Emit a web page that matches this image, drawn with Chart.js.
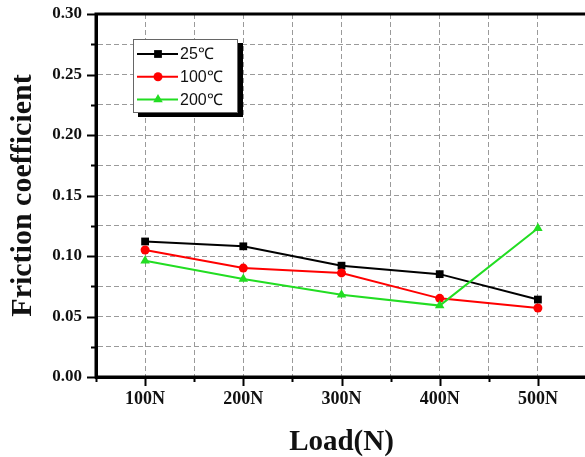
<!DOCTYPE html>
<html>
<head>
<meta charset="utf-8">
<script src="https://cdn.jsdelivr.net/npm/chart.js@4.4.0/dist/chart.umd.min.js"></script>
<style>
  html, body { margin: 0; padding: 0; background: #fff; overflow: hidden; }
  #wrap { width: 600px; height: 457px; }
</style>
</head>
<body>
<div id="wrap"><canvas id="frictionChart" width="600" height="457"></canvas></div>
<script>
// loads on the x axis and their tick labels
const loads = [100, 200, 300, 400, 500];
const loadLabels = ['100N', '200N', '300N', '400N', '500N'];

// series (friction coefficient per load)
const seriesNames = ['25℃', '100℃', '200℃'];
const mu25 = [0.112, 0.108, 0.092, 0.085, 0.064];
const mu100 = [0.105, 0.090, 0.086, 0.065, 0.057];
const mu200 = [0.096, 0.081, 0.068, 0.059, 0.123];

const serif = '"Liberation Serif", "Times New Roman", serif';
const sans = '"Liberation Sans", Arial, sans-serif';

const toPoints = vals => vals.map((v, i) => ({ x: loads[i], y: v }));

function drawMarker(ctx, style, r, x, y) {
    ctx.beginPath();
    if (style === 'rect') {
        const s = r * Math.SQRT1_2;
        ctx.rect(x - s, y - s, 2 * s, 2 * s);
    } else if (style === 'triangle') {
        ctx.moveTo(x, y - r);
        ctx.lineTo(x + r * 0.866, y + r * 0.5);
        ctx.lineTo(x - r * 0.866, y + r * 0.5);
        ctx.closePath();
    } else {
        ctx.arc(x, y, r, 0, Math.PI * 2);
    }
    ctx.fill();
}

// axis lines (left, bottom, top) + outer tick marks
const frameTicks = {
    id: 'frameTicks',
    afterDraw(chart) {
        const { ctx, chartArea: a } = chart;
        const xs = chart.scales.x, ys = chart.scales.y;
        ctx.save();
        ctx.strokeStyle = '#000';
        ctx.lineWidth = 2;
        ys.ticks.forEach(t => {
            const py = Math.round(ys.getPixelForValue(t.value)) + 0.5;
            const major = Math.round(t.value / 0.025) % 2 === 0;
            ctx.beginPath();
            ctx.moveTo(a.left - (major ? 9 : 5), py);
            ctx.lineTo(a.left, py);
            ctx.stroke();
        });
        xs.ticks.forEach(t => {
            const px = Math.round(xs.getPixelForValue(t.value)) + 0.5;
            const major = loads.includes(t.value);
            ctx.beginPath();
            ctx.moveTo(px, a.bottom);
            ctx.lineTo(px, a.bottom + (major ? 9 : 5));
            ctx.stroke();
        });
        ctx.lineWidth = 3;
        ctx.beginPath();
        ctx.moveTo(a.right + 2, a.top);
        ctx.lineTo(a.left, a.top);
        ctx.lineTo(a.left, a.bottom);
        ctx.lineTo(a.right + 2, a.bottom);
        ctx.stroke();
        ctx.restore();
    }
};

// boxed legend with a drop shadow
const boxLegend = {
    id: 'boxLegend',
    afterDraw(chart) {
        const { ctx, chartArea: a } = chart;
        const x = a.left + 37, y = a.top + 25, w = 105, h = 74;
        ctx.save();
        ctx.fillStyle = '#000';
        ctx.fillRect(x + 5, y + 4, w, h);
        ctx.fillStyle = '#fff';
        ctx.fillRect(x, y, w, h);
        ctx.strokeStyle = '#666';
        ctx.lineWidth = 1;
        ctx.strokeRect(x + 0.5, y + 0.5, w - 1, h - 1);
        chart.data.datasets.forEach((ds, i) => {
            const cy = y + 15 + i * 22.7;
            ctx.strokeStyle = ds.borderColor;
            ctx.lineWidth = 2;
            ctx.beginPath();
            ctx.moveTo(x + 4, cy);
            ctx.lineTo(x + 45, cy);
            ctx.stroke();
            ctx.fillStyle = ds.backgroundColor;
            drawMarker(ctx, ds.pointStyle, ds.pointRadius, x + 25, cy);
            ctx.fillStyle = '#111';
            ctx.font = '16px ' + sans;
            ctx.textAlign = 'left';
            ctx.textBaseline = 'middle';
            ctx.fillText(ds.label, x + 47, cy + 1);
        });
        ctx.restore();
    }
};

const colors = ['#000000', '#ff0000', '#22dd22'];
const styles = ['rect', 'circle', 'triangle'];
const radii = [5.5, 4.5, 5.5];

const datasets = [mu25, mu100, mu200].map((vals, i) => ({
    label: seriesNames[i],
    data: toPoints(vals),
    borderColor: colors[i],
    backgroundColor: colors[i],
    pointBackgroundColor: colors[i],
    pointBorderColor: colors[i],
    pointStyle: styles[i],
    pointRadius: radii[i],
    pointBorderWidth: 0,
    borderWidth: 2,
    tension: 0,
    order: 3 - i
}));

new Chart(document.getElementById('frictionChart'), {
    type: 'line',
    data: { datasets },
    options: {
        responsive: false,
        animation: false,
        devicePixelRatio: 1,
        layout: { padding: { left: 0, top: 14, right: 13, bottom: 0 } },
        plugins: { legend: { display: false }, tooltip: { enabled: false } },
        scales: {
            x: {
                type: 'linear',
                min: 50,
                max: 550,
                afterFit(s) {
                    s.height = 80;
                    s.paddingLeft = 0;
                    s.paddingRight = 0;
                },
                ticks: {
                    stepSize: 50,
                    autoSkip: false,
                    maxRotation: 0,
                    padding: 12,
                    color: '#111',
                    font: { family: serif, size: 18, weight: 'bold' },
                    callback: v => {
                        const i = loads.indexOf(v);
                        return i >= 0 ? loadLabels[i] : '';
                    }
                },
                grid: { color: '#9a9a9a', lineWidth: 1, drawTicks: false },
                border: { color: '#000', width: 3, dash: [5, 3] },
                title: {
                    display: true,
                    text: 'Load(N)',
                    color: '#111',
                    padding: 0,
                    font: { family: serif, size: 29, weight: 'bold', lineHeight: 1 }
                }
            },
            y: {
                min: 0,
                max: 0.3,
                afterFit(s) {
                    s.width = 96;
                    s.paddingTop = 0;
                    s.paddingBottom = 0;
                },
                ticks: {
                    stepSize: 0.025,
                    autoSkip: false,
                    padding: 14,
                    color: '#111',
                    font: { family: serif, size: 17, weight: 'bold' },
                    callback: (v, i) => (i % 2 === 0 ? v.toFixed(2) : '')
                },
                grid: { color: '#9a9a9a', lineWidth: 1, drawTicks: false },
                border: { color: '#000', width: 3, dash: [5, 3] },
                title: {
                    display: true,
                    text: 'Friction coefficient',
                    color: '#111',
                    padding: { top: 8, bottom: 0 },
                    font: { family: serif, size: 30, weight: 'bold', lineHeight: 1 }
                }
            }
        }
    },
    plugins: [frameTicks, boxLegend]
});
</script>
</body>
</html>
